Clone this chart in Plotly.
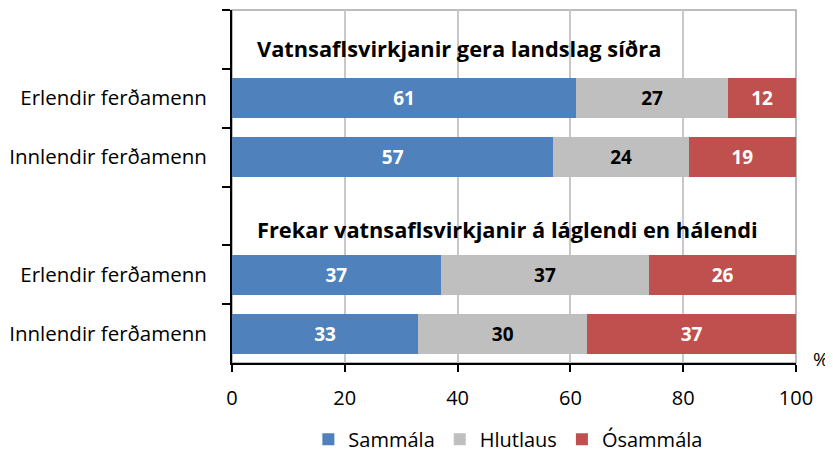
import plotly.graph_objects as go

# rows from top to bottom; the two blank-named rows carry the headings
rows = [" ", "Erlendir ferðamenn", "Innlendir ferðamenn",
        "  ", "Erlendir ferðamenn\u200b", "Innlendir ferðamenn\u200b"]
bar_rows = ["Erlendir ferðamenn", "Innlendir ferðamenn",
            "Erlendir ferðamenn\u200b", "Innlendir ferðamenn\u200b"]
sammala = [61, 57, 37, 33]
hlutlaus = [27, 24, 37, 30]
osammala = [12, 19, 26, 37]
headings = ["Vatnsaflsvirkjanir gera landslag síðra",
            "Frekar vatnsaflsvirkjanir á láglendi en hálendi"]

font = "'Open Sans', sans-serif"

fig = go.Figure()
series = [("Sammála", sammala, "#4F81BD", "white"),
          ("Hlutlaus", hlutlaus, "#BFBFBF", "black"),
          ("Ósammála", osammala, "#C0504D", "white")]
for name, vals, col, tcol in series:
    fig.add_trace(go.Bar(
        y=bar_rows, x=vals, name=name, orientation="h",
        marker=dict(color=col, line=dict(width=0)),
        text=vals, textposition="inside", insidetextanchor="middle",
        textfont=dict(color=tcol, size=19, family=font, weight="bold"),
        width=0.68,
    ))

fig.add_annotation(x=4.0, y=rows[0], text=headings[0], showarrow=False,
                   xanchor="left", yanchor="middle", yshift=-9,
                   font=dict(size=21.8, color="black", family=font, weight="bold"))
fig.add_annotation(x=4.0, y=rows[3], text=headings[1], showarrow=False,
                   xanchor="left", yanchor="middle", yshift=-14,
                   font=dict(size=21.8, color="black", family=font, weight="bold"))
fig.add_annotation(x=1.0, y=0.0, xref="paper", yref="paper", text="%",
                   showarrow=False, xanchor="right", yanchor="middle",
                   xshift=35, yshift=4, font=dict(size=19, color="black", family=font))

# grey plot-area frame
fig.add_shape(type="rect", xref="paper", yref="paper", x0=0, y0=0, x1=1, y1=1,
              line=dict(color="#A6A6A6", width=1.5), layer="below")

fig.update_layout(
    barmode="stack",
    width=825, height=446,
    margin=dict(l=224, r=37, t=2, b=91, autoexpand=False),
    plot_bgcolor="white", paper_bgcolor="white",
    font=dict(family=font, size=20, color="black"),
    legend=dict(orientation="h", x=0.49, xanchor="center", y=-0.216, yanchor="middle",
                font=dict(size=20), traceorder="normal", itemwidth=30),
    xaxis=dict(range=[0, 100], tickvals=[0, 20, 40, 60, 80, 100],
               showgrid=True, gridcolor="#C8C8C8", gridwidth=1.5,
               showline=True, linecolor="black", linewidth=2,
               ticks="outside", ticklen=7, tickwidth=2, tickcolor="black",
               ticklabelstandoff=9,
               zeroline=False, tickfont=dict(size=20), automargin=False),
    yaxis=dict(categoryorder="array", categoryarray=rows, type="category",
               tickson="boundaries", automargin=False,
               showline=True, linecolor="black", linewidth=2,
               ticks="outside", ticklen=8, tickwidth=2, tickcolor="black",
               ticklabelstandoff=19,
               showgrid=False, tickfont=dict(size=20.5)),
)
fig.update_yaxes(range=[5.5, -0.5], autorange=False)

fig.write_html("out.html")
